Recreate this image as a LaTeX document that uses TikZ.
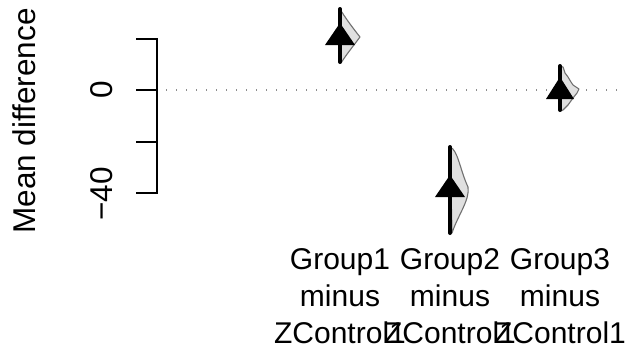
\documentclass[tikz,border=0pt]{standalone}
\usepackage{fontspec}
\setmainfont{Liberation Sans}
\definecolor{violgray}{HTML}{E0E0E0}
\definecolor{violline}{HTML}{707070}
\definecolor{dotgray}{HTML}{8C8C8C}
\begin{document}
\begin{tikzpicture}[x=1pt,y=-1pt]
\tikzset{
 lbl/.style={font=\fontsize{30}{36}\selectfont, inner sep=0pt, anchor=base},
 ylbl/.style={inner sep=0pt, anchor=base, font=\fontsize{31.5}{36}\selectfont, rotate=90},
 ci/.style={line width=4pt, line cap=round},
 tri/.style={fill=black},
 vio/.style={fill=violgray, draw=violline, line width=1.1pt, line join=round},
 zeroline/.style={draw=dotgray, line width=1.4pt, dash pattern=on 1.4pt off 8.6pt},
 axisline/.style={line width=1.2pt, line cap=rect}
}
\useasboundingbox (0,0) rectangle (627,351);
% zero line
\coordinate (z0) at (166,90);
\coordinate (z1) at (622,90);
\draw[zeroline] (z0) -- (z1);
% axis
\draw[axisline] (137,39) -- (157,39) -- (157,193) -- (137,193);
\draw[axisline] (137,90) -- (157,90);
\draw[axisline] (137,142) -- (157,142);
\node[ylbl] (t0) at (112,90) {0};
\node[ylbl] (tm40) at (112,194) {−40};
\node[ylbl] (ytitle) at (35,121) {Mean difference};
% group 1
\draw[vio] (340,9) .. controls (344,16) and (352,27) .. (360,37)
  .. controls (354,45) and (346,55) .. (341,63) -- cycle;
\draw[ci] (340,9) -- (340,62);
\fill[tri] (340,23) -- (355,45) -- (325,45) -- cycle;
% group 2
\draw[vio] (450,147) .. controls (458,150) and (460,170) .. (468,187)
  .. controls (470,200) and (458,215) .. (452,233) -- cycle;
\draw[ci] (450,147) -- (450,233);
\fill[tri] (450,175) -- (465,197) -- (435,197) -- cycle;
% group 3
\draw[vio] (560,66) -- (563,67) -- (565,73) -- (568,77) -- (571,82) -- (573,85)
  -- (579,89) -- (577,93) -- (573,98) -- (568,105) -- (563,110) -- (561,111) -- cycle;
\draw[ci] (560,66) -- (560,110);
\fill[tri] (560,77) -- (574,99) -- (546,99) -- cycle;
% labels
\node[lbl] (g1a) at (340,269) {Group1};
\node[lbl] (g1b) at (340,306) {minus};
\node[lbl] (g1c) at (340,343) {ZControl1};
\node[lbl] (g2a) at (450,269) {Group2};
\node[lbl] (g2b) at (450,306) {minus};
\node[lbl] (g2c) at (450,343) {ZControl1};
\node[lbl] (g3a) at (560,269) {Group3};
\node[lbl] (g3b) at (560,306) {minus};
\node[lbl] (g3c) at (560,343) {ZControl1};
\end{tikzpicture}
\end{document}
